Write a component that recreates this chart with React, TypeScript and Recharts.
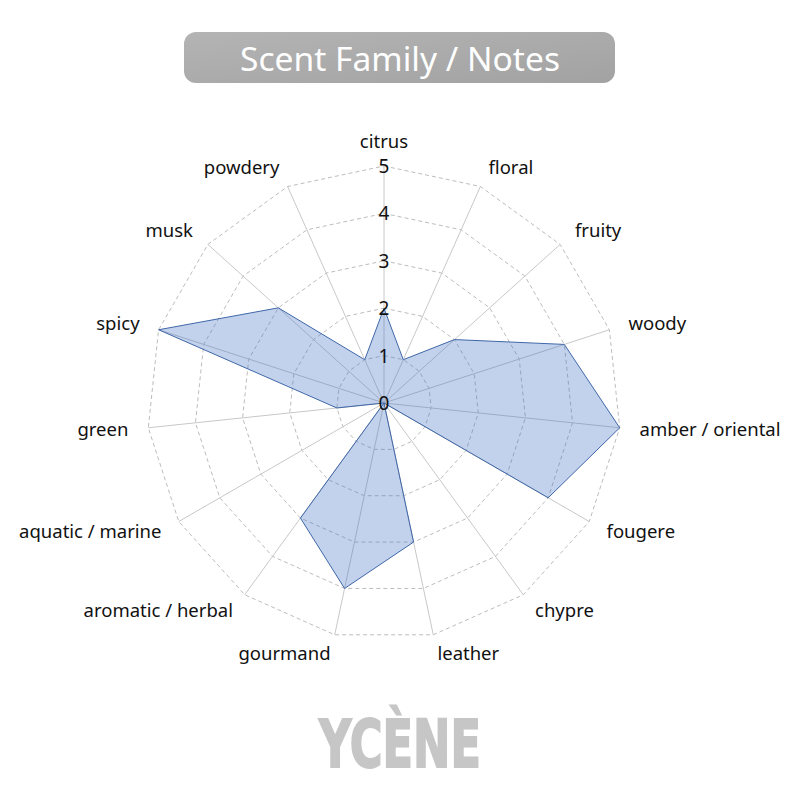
import React from "react";
import {
  RadarChart,
  Radar,
  PolarGrid,
  PolarAngleAxis,
  PolarRadiusAxis,
} from "recharts";

const families = [
  "citrus",
  "floral",
  "fruity",
  "woody",
  "amber / oriental",
  "fougere",
  "chypre",
  "leather",
  "gourmand",
  "aromatic / herbal",
  "aquatic / marine",
  "green",
  "spicy",
  "musk",
  "powdery",
];

const intensity = [2, 1, 2, 4, 5, 4, 0, 3, 4, 3, 0, 1, 5, 3, 1];

const radiusTicks = [0, 1, 2, 3, 4, 5];

const data = families.map((name, i) => ({ name, value: intensity[i] }));

const FONT = "'Noto Sans', 'Open Sans', sans-serif";
const RAD = Math.PI / 180;

function FamilyTick(props: any) {
  const { cx, cy, radius, payload, textAnchor } = props;
  const angle = payload.coordinate;
  const r = radius + 20;
  const x = cx + r * Math.cos(angle * RAD);
  // the top label sits a little higher than the rest
  const y = cy - r * Math.sin(angle * RAD) - (textAnchor === "middle" ? 6 : 1.5);
  return (
    <text
      x={x}
      y={y}
      textAnchor={textAnchor}
      dominantBaseline="central"
      fontFamily={FONT}
      fontSize={18.5}
      fill="#111"
    >
      {payload.value}
    </text>
  );
}

function ValueTick(props: any) {
  const { x, y, payload } = props;
  return (
    <text
      x={x}
      y={y}
      textAnchor="middle"
      dominantBaseline="central"
      fontFamily={FONT}
      fontSize={19}
      fill="#111"
    >
      {payload.value}
    </text>
  );
}

export default function App() {
  return (
    <div
      style={{
        position: "fixed",
        left: 0,
        top: 0,
        width: 800,
        height: 800,
        background: "#fff",
      }}
    >
      <svg
        width={800}
        height={800}
        style={{ position: "absolute", left: 0, top: 0 }}
      >
        <defs>
          <linearGradient id="titleBg" x1="0" y1="0" x2="1" y2="1">
            <stop offset="0%" stopColor="#b4b4b4" />
            <stop offset="100%" stopColor="#a2a2a2" />
          </linearGradient>
        </defs>
        <rect x={184} y={32} width={431} height={51} rx={12} fill="url(#titleBg)" />
        <text
          x={400}
          y={58}
          textAnchor="middle"
          dominantBaseline="central"
          fontFamily={FONT}
          fontSize={33}
          textLength={320}
          lengthAdjust="spacingAndGlyphs"
          fill="#fff"
        >
          Scent Family / Notes
        </text>
        <text
          x={400}
          y={767}
          textAnchor="middle"
          fontFamily="'DejaVu Sans', sans-serif"
          fontWeight="bold"
          fontSize={66}
          textLength={162}
          lengthAdjust="spacingAndGlyphs"
          fill="#c6c6c6"
          stroke="#c6c6c6"
          strokeWidth={2}
        >
          YCÈNE
        </text>
      </svg>
      <div style={{ position: "absolute", left: 0, top: 0 }}>
        <RadarChart
          width={800}
          height={800}
          data={data}
          cx={384}
          cy={403}
          outerRadius={237}
          margin={{ top: 0, right: 0, bottom: 0, left: 0 }}
        >
          <PolarGrid
            gridType="polygon"
            radialLines={false}
            stroke="#bdbdbd"
            strokeDasharray="4 3"
          />
          <PolarGrid gridType="polygon" polarRadius={[]} stroke="#c8c8c8" />
          <PolarAngleAxis
            dataKey="name"
            tick={<FamilyTick />}
            tickLine={false}
            axisLine={false}
          />
          <PolarRadiusAxis
            angle={90}
            domain={[0, 5]}
            ticks={radiusTicks as any}
            tickCount={6}
            tick={<ValueTick />}
            axisLine={false}
            tickLine={false}
          />
          <Radar
            dataKey="value"
            stroke="#3f67a8"
            strokeWidth={1}
            fill="#4472c4"
            fillOpacity={0.32}
            isAnimationActive={false}
          />
        </RadarChart>
      </div>
    </div>
  );
}
